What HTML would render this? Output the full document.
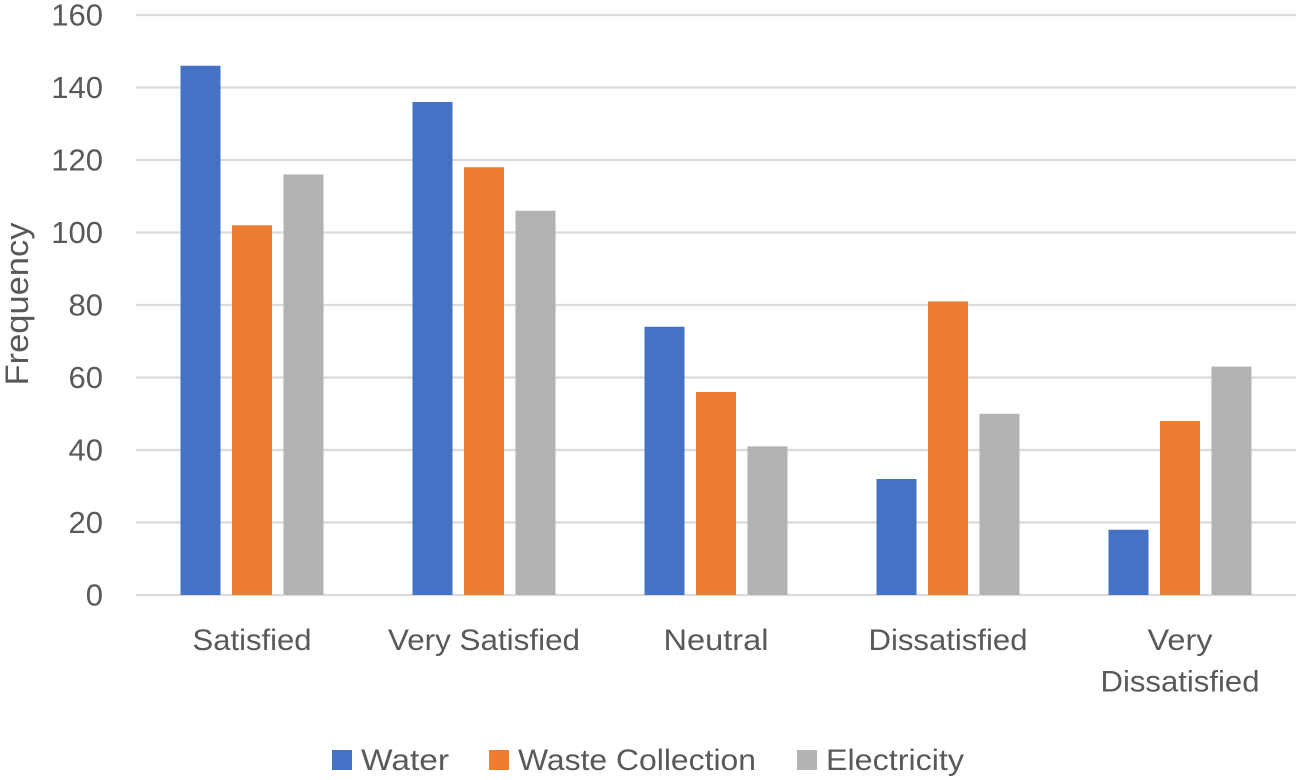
<!DOCTYPE html>
<html lang="en">
<head>
<meta charset="utf-8">
<title>Frequency chart</title>
<style>
html,body{margin:0;padding:0;background:#fff;}
svg{display:block;}
text{font-family:"Liberation Sans",sans-serif;fill:#595959;}
</style>
</head>
<body>
<svg id="chart" xmlns="http://www.w3.org/2000/svg" width="1300" height="780" viewBox="0 0 1300 780"></svg>
<script>
const categories = [["Satisfied"], ["Very Satisfied"], ["Neutral"], ["Dissatisfied"], ["Very", "Dissatisfied"]];
const labelWidths = [[119], [192], [105], [159], [65, 159]];
const seriesNames = ["Water", "Waste Collection", "Electricity"];
const seriesColors = ["#4472c4", "#ed7d31", "#b2b2b2"];
const water = [146, 136, 74, 32, 18];
const wasteCollection = [102, 118, 56, 81, 48];
const electricity = [116, 106, 41, 50, 63];
const yTicks = [0, 20, 40, 60, 80, 100, 120, 140, 160];

const allSeries = [water, wasteCollection, electricity];
const svg = document.getElementById('chart');
const NS = 'http://www.w3.org/2000/svg';
const plotLeft = 136, plotRight = 1296, plotTop = 15, plotBottom = 595;
const yMax = 160;
const groupWidth = (plotRight - plotLeft) / categories.length;
const barWidth = 40, barStep = 51.5;

function yScale(v) { return plotBottom - (v / yMax) * (plotBottom - plotTop); }
function xCenter(i) { return plotLeft + groupWidth * (i + 0.5); }
function make(tag, attrs, text) {
  const el = document.createElementNS(NS, tag);
  for (const k in attrs) el.setAttribute(k, attrs[k]);
  if (text !== undefined) el.textContent = text;
  svg.appendChild(el);
  return el;
}

yTicks.forEach(function (t) {
  const y = yScale(t);
  const line = make('line', {x1: plotLeft, x2: plotRight, y1: y, y2: y, stroke: '#dcdcdc', 'stroke-width': 2.2});
  
  
  const label = make('text', {x: 103, y: y + 10.5, 'text-anchor': 'end', 'font-size': 31}, String(t));
  
  
});

allSeries.forEach(function (values, s) {
  values.forEach(function (v, i) {
    const cx = xCenter(i) + (s - 1) * barStep;
    const top = yScale(v);
    const bar = make('rect', {x: cx - barWidth / 2, y: top, width: barWidth, height: plotBottom - top, fill: seriesColors[s]});
    
    
  });
});

categories.forEach(function (lines, i) {
  lines.forEach(function (txt, j) {
    const label = make('text', {
      x: xCenter(i), y: 650 + j * 41.5, 'text-anchor': 'middle', 'font-size': 30,
      textLength: labelWidths[i][j], lengthAdjust: 'spacingAndGlyphs'
    }, txt);
    
    
  });
});

const axisTitle = make('text', {
  x: 0, y: 0, 'text-anchor': 'middle', 'font-size': 32,
  transform: 'translate(28 304) rotate(-90)', textLength: 163, lengthAdjust: 'spacingAndGlyphs'
}, 'Frequency');



const legendSwatchXs = [332, 489, 797];
const legendTextWidths = [88, 238, 138];
seriesNames.forEach(function (name, s) {
  const swatch = make('rect', {x: legendSwatchXs[s], y: 750, width: 20, height: 20, fill: seriesColors[s]});
  
  
  const label = make('text', {
    x: legendSwatchXs[s] + 29, y: 770, 'font-size': 30,
    textLength: legendTextWidths[s], lengthAdjust: 'spacingAndGlyphs'
  }, name);
  
  
});
</script>
</body>
</html>
